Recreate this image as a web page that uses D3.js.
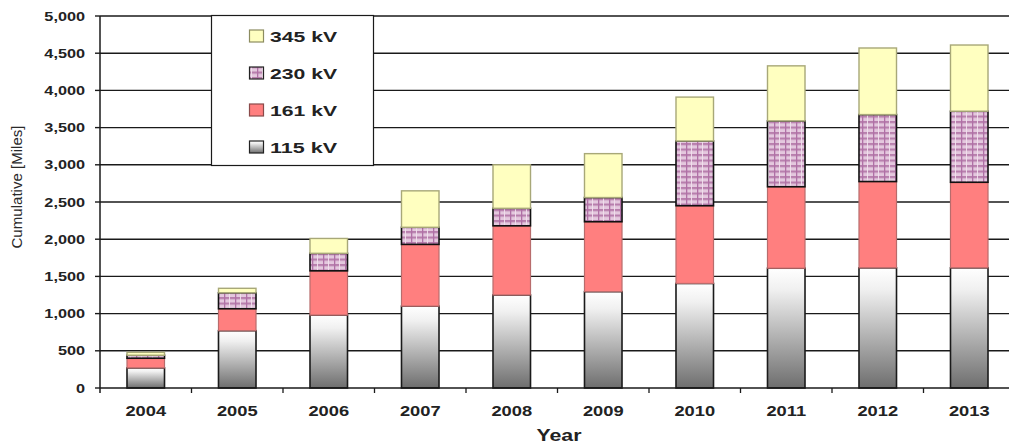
<!DOCTYPE html>
<html><head><meta charset="utf-8">
<script src="https://cdn.jsdelivr.net/npm/d3@7"></script>
<style>
body{margin:0;background:#fff}
svg{display:block}
text{font-family:"Liberation Sans",Arial,Helvetica,sans-serif}
</style>
</head><body>
<svg id="c" width="1009" height="445"></svg>
<script>
// ---- data ----
const years = ["2004","2005","2006","2007","2008","2009","2010","2011","2012","2013"];
const kv115 = [270, 770, 980, 1100, 1250, 1295, 1405, 1610, 1615, 1615];
const kv161 = [130, 295, 595, 830, 930, 940, 1045, 1095, 1160, 1150];
const kv230 = [40, 215, 235, 230, 235, 325, 870, 885, 900, 955];
const kv345 = [40, 60, 200, 490, 585, 590, 590, 740, 895, 890];
const seriesKeys = ["115 kV","161 kV","230 kV","345 kV"];
const yTicks = [0,500,1000,1500,2000,2500,3000,3500,4000,4500,5000];
const yTickLabels = ["0","500","1,000","1,500","2,000","2,500","3,000","3,500","4,000","4,500","5,000"];
const xTitle = "Year";
const yTitle = "Cumulative [Miles]";

const rows = years.map((y,i)=>({year:y,"115 kV":kv115[i],"161 kV":kv161[i],"230 kV":kv230[i],"345 kV":kv345[i]}));

const svg = d3.select("#c");
const L = 100, R = 1015, T = 16, B = 388, W = 1009;

const x = d3.scaleBand().domain(years).range([L,R]).paddingInner(0.59).paddingOuter(0.295);
const y = d3.scaleLinear().domain([0,5000]).range([B,T]);
const step = x.step();

// defs
const defs = svg.append("defs");
const g115 = defs.append("linearGradient").attr("id","g115").attr("x1",0).attr("y1",0).attr("x2",0).attr("y2",1);
g115.append("stop").attr("offset","0%").attr("stop-color","#ffffff");
g115.append("stop").attr("offset","18%").attr("stop-color","#f0f0f0");
g115.append("stop").attr("offset","100%").attr("stop-color","#6e6e6e");

const pat = defs.append("pattern").attr("id","p230").attr("patternUnits","userSpaceOnUse")
  .attr("width",11).attr("height",5.5);
pat.append("rect").attr("width",11).attr("height",5.5).attr("fill","#e4c8de");
pat.append("rect").attr("y",0).attr("width",11).attr("height",2.2).attr("fill","#b87fad");
pat.append("rect").attr("x",4).attr("width",1.3).attr("height",5.5).attr("fill","#b070a6");
pat.append("rect").attr("x",9).attr("width",0.9).attr("height",5.5).attr("fill","#f2e2ee");

const fills = {"115 kV":"url(#g115)","161 kV":"#ff7f7f","230 kV":"url(#p230)","345 kV":"#ffffc0"};
const strokes = {"115 kV":"#1a1a1a","161 kV":"#b86c6c","230 kV":"#111","345 kV":"#a8a878"};
const sw = {"115 kV":1.6,"161 kV":1.2,"230 kV":1.6,"345 kV":1.4};

// gridlines
svg.append("g").selectAll("line").data(yTicks.slice(1)).join("line")
  .attr("x1",L).attr("x2",W).attr("y1",d=>y(d)).attr("y2",d=>y(d))
  .attr("stroke","#1a1a1a").attr("stroke-width",1.4);

// y ticks & labels
svg.append("g").selectAll("line").data(yTicks).join("line")
  .attr("x1",L-5).attr("x2",L).attr("y1",d=>y(d)).attr("y2",d=>y(d))
  .attr("stroke","#1a1a1a").attr("stroke-width",1.4);
svg.append("g").selectAll("text").data(yTicks).join("text")
  .attr("transform",d=>`translate(85,${y(d)+4.5}) scale(1.25,1)`)
  .attr("text-anchor","end").attr("font-size",13).attr("font-weight","bold").attr("fill","#222")
  .text((d,i)=>yTickLabels[i]);

// bars
const stack = d3.stack().keys(seriesKeys)(rows);
svg.append("g").selectAll("g").data(stack).join("g")
  .each(function(layer){
    d3.select(this).selectAll("rect").data(layer).join("rect")
      .attr("x",d=>x(d.data.year)).attr("width",x.bandwidth())
      .attr("y",d=>y(d[1])).attr("height",d=>y(d[0])-y(d[1]))
      .attr("fill",fills[layer.key]).attr("stroke",strokes[layer.key]).attr("stroke-width",sw[layer.key]);
  });

// axes lines
svg.append("line").attr("x1",L).attr("x2",L).attr("y1",T).attr("y2",B+5).attr("stroke","#1a1a1a").attr("stroke-width",1.5);
svg.append("line").attr("x1",L).attr("x2",W).attr("y1",B).attr("y2",B).attr("stroke","#1a1a1a").attr("stroke-width",1.5);
// x boundary ticks (between categories)
svg.append("g").selectAll("line").data(years).join("line")
  .attr("x1",d=>x(d) - step*0.295 + step).attr("x2",d=>x(d) - step*0.295 + step)
  .attr("y1",B).attr("y2",B+5).attr("stroke","#1a1a1a").attr("stroke-width",1.3);
// x labels
svg.append("g").selectAll("text").data(years).join("text")
  .attr("transform",d=>`translate(${x(d)+x.bandwidth()/2},416) scale(1.22,1)`)
  .attr("text-anchor","middle").attr("font-size",15).attr("font-weight","bold").attr("fill","#222")
  .text(d=>d);

// titles
svg.append("text").attr("x",559).attr("y",441).attr("text-anchor","middle")
  .attr("font-size",16).attr("font-weight","bold").attr("fill","#222")
  .attr("textLength",45).attr("lengthAdjust","spacingAndGlyphs").text(xTitle);
svg.append("text").attr("transform","translate(22,187) rotate(-90)").attr("text-anchor","middle")
  .attr("font-size",14).attr("fill","#2a2a2a")
  .attr("textLength",123).attr("lengthAdjust","spacingAndGlyphs").text(yTitle);

// legend
const lg = svg.append("g");
lg.append("rect").attr("x",211.5).attr("y",15.5).attr("width",162).attr("height",150)
  .attr("fill","#fff").attr("stroke","#1a1a1a").attr("stroke-width",1.2);
const legendKeys = seriesKeys.slice().reverse();
const rowY = d3.scalePoint().domain(legendKeys).range([36,147]);
legendKeys.forEach(k=>{
  const cy = rowY(k);
  lg.append("rect").attr("x",249.5).attr("y",cy-6).attr("width",14).attr("height",12)
    .attr("fill",fills[k]).attr("stroke",k==="345 kV"?"#8c8c60":(k==="161 kV"?"#8a4a4a":"#222")).attr("stroke-width",1.2);
  lg.append("text").attr("x",270).attr("y",cy+5.5).attr("font-size",15).attr("font-weight","bold").attr("fill","#222")
    .attr("textLength",67).attr("lengthAdjust","spacingAndGlyphs").text(k);
});
</script>
</body></html>
